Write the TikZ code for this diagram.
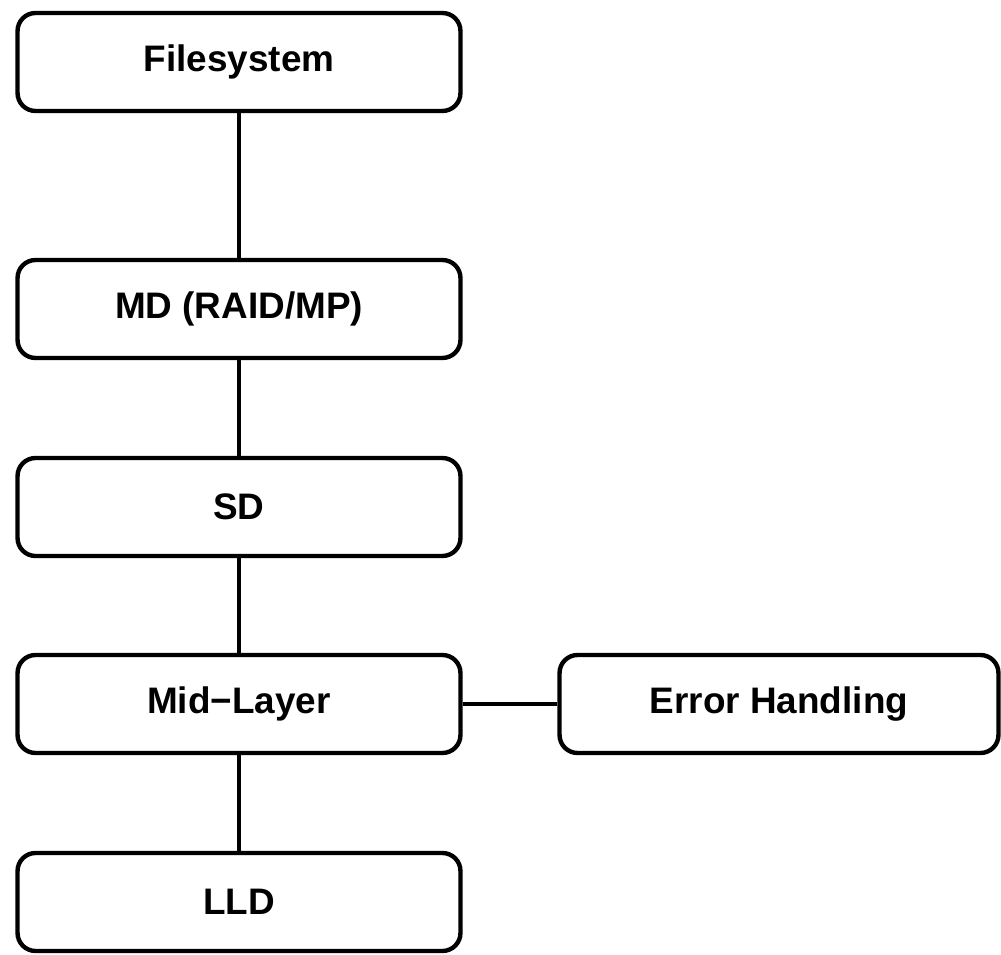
\documentclass[tikz,border=0pt]{standalone}
\usepackage{fontspec}
\setmainfont{Liberation Sans}
\begin{document}
\begin{tikzpicture}[x=0.02cm, y=-0.02cm,
		layer/.style={draw, rectangle, rounded corners=0.36cm, line width=2.5pt, minimum width=8.86cm, minimum height=1.96cm, font=\fontsize{21}{25}\selectfont\bfseries},
		link/.style={line width=2.5pt}]
			\useasboundingbox (0,0) rectangle (1001,955);
			\node[layer] (fs) at (239,62) {Filesystem};
			\node[layer] (md) at (239,309) {MD (RAID/MP)};
			\node[layer] (sd) at (239,507) {SD};
			\node[layer] (mid) at (239,704) {Mid−Layer};
			\node[layer, minimum width=8.78cm] (err) at (779,704) {Error Handling};
			\node[layer] (lld) at (239,902) {LLD};
			\draw[link] (fs) -- (md);
			\draw[link] (md) -- (sd);
			\draw[link] (sd) -- (mid);
			\draw[link] (mid) -- (lld);
			\draw[link] (mid) -- (err);
		
		\end{tikzpicture}
\end{document}
